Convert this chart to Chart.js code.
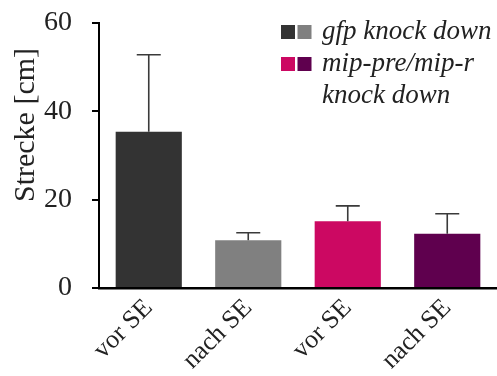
<!DOCTYPE html>
<html>
<head>
<meta charset="utf-8">
<script src="https://cdn.jsdelivr.net/npm/chart.js@4/dist/chart.umd.min.js"></script>
<style>
  html, body { margin: 0; padding: 0; background: #fff; }
  #wrap { width: 497px; height: 376px; position: relative; }
</style>
</head>
<body>
<div id="wrap"><canvas id="c" width="497" height="376"></canvas></div>
<script>
// Distance travelled before / after SE for the two knock-down groups
const categories = ['vor SE', 'nach SE', 'vor SE', 'nach SE'];
const meanValues = [35.4, 10.8, 15.1, 12.3];
const errorValues = [17.4, 1.7, 3.5, 4.5];
const barColors = ['#333333', '#808080', '#cc0862', '#5f004e'];
const yTicks = [0, 20, 40, 60];
const legendEntries = [
  { colors: ['#333333', '#808080'], lines: ['gfp knock down'] },
  { colors: ['#cc0862', '#5f004e'], lines: ['mip-pre/mip-r', 'knock down'] }
];
const yTitle = 'Strecke [cm]';

const FONT = '"Liberation Serif", "Times New Roman", serif';

// upward error bars with a cap
const errorBarPlugin = {
  id: 'errorBars',
  afterDatasetsDraw(chart) {
    const ctx = chart.ctx;
    const meta = chart.getDatasetMeta(0);
    const y = chart.scales.y;
    ctx.save();
    ctx.strokeStyle = '#3a3a3a';
    ctx.lineWidth = 1.6;
    meta.data.forEach((bar, i) => {
      const x = bar.x;
      const yTop = y.getPixelForValue(meanValues[i] + errorValues[i]);
      const yBase = y.getPixelForValue(meanValues[i]);
      ctx.beginPath();
      ctx.moveTo(x, yBase);
      ctx.lineTo(x, yTop);
      ctx.moveTo(x - 12, yTop);
      ctx.lineTo(x + 12, yTop);
      ctx.stroke();
    });
    ctx.restore();
  }
};

// y-axis title and two-swatch legend
const decorPlugin = {
  id: 'decor',
  afterDraw(chart) {
    const ctx = chart.ctx;
    ctx.save();
    ctx.fillStyle = '#222';
    ctx.font = '30px ' + FONT;
    ctx.textAlign = 'center';
    ctx.textBaseline = 'middle';
    ctx.translate(26, 125);
    ctx.rotate(-Math.PI / 2);
    ctx.fillText(yTitle, 0, 0);
    ctx.restore();

    ctx.save();
    ctx.font = 'italic 27px ' + FONT;
    ctx.textAlign = 'left';
    ctx.textBaseline = 'middle';
    let yRow = 32;
    legendEntries.forEach(entry => {
      entry.colors.forEach((c, k) => {
        ctx.fillStyle = c;
        ctx.fillRect(281 + k * 16.5, yRow - 7, 14, 14);
      });
      ctx.fillStyle = '#222';
      entry.lines.forEach((line, j) => {
        ctx.fillText(line, 322, yRow + j * 32);
      });
      yRow += 32;
    });
    ctx.restore();
  }
};

new Chart(document.getElementById('c'), {
  type: 'bar',
  data: {
    labels: categories,
    datasets: [{
      data: meanValues,
      backgroundColor: barColors,
      borderWidth: 0,
      barPercentage: 0.665,
      categoryPercentage: 1
    }]
  },
  options: {
    responsive: false,
    animation: false,
    devicePixelRatio: 1,
    layout: { padding: { top: 23, right: 0, left: 0, bottom: 0 } },
    plugins: { legend: { display: false }, tooltip: { enabled: false } },
    scales: {
      x: {
        offset: true,
        grid: { display: false, drawTicks: false },
        border: { display: true, color: '#000', width: 2.5 },
        ticks: {
          color: '#222',
          font: { family: FONT, size: 26 },
          minRotation: 45, maxRotation: 45,
          padding: 5
        },
        afterFit(scale) {
          scale.height = 88;
          scale.paddingLeft = 0; scale.paddingRight = 0;
          scale.paddingTop = 0; scale.paddingBottom = 0;
        }
      },
      y: {
        min: 0, max: 60,
        afterBuildTicks(scale) { scale.ticks = yTicks.map(v => ({ value: v })); },
        grid: { display: true, drawOnChartArea: false, drawTicks: true, tickLength: 7, color: '#000', lineWidth: 2 },
        border: { display: true, color: '#000', width: 2 },
        ticks: {
          color: '#222',
          font: { family: FONT, size: 28 },
          padding: 20
        },
        afterFit(scale) {
          scale.width = 99;
          scale.paddingTop = 0; scale.paddingBottom = 0;
          scale.paddingLeft = 0; scale.paddingRight = 0;
        }
      }
    }
  },
  plugins: [errorBarPlugin, decorPlugin]
});
</script>
</body>
</html>
